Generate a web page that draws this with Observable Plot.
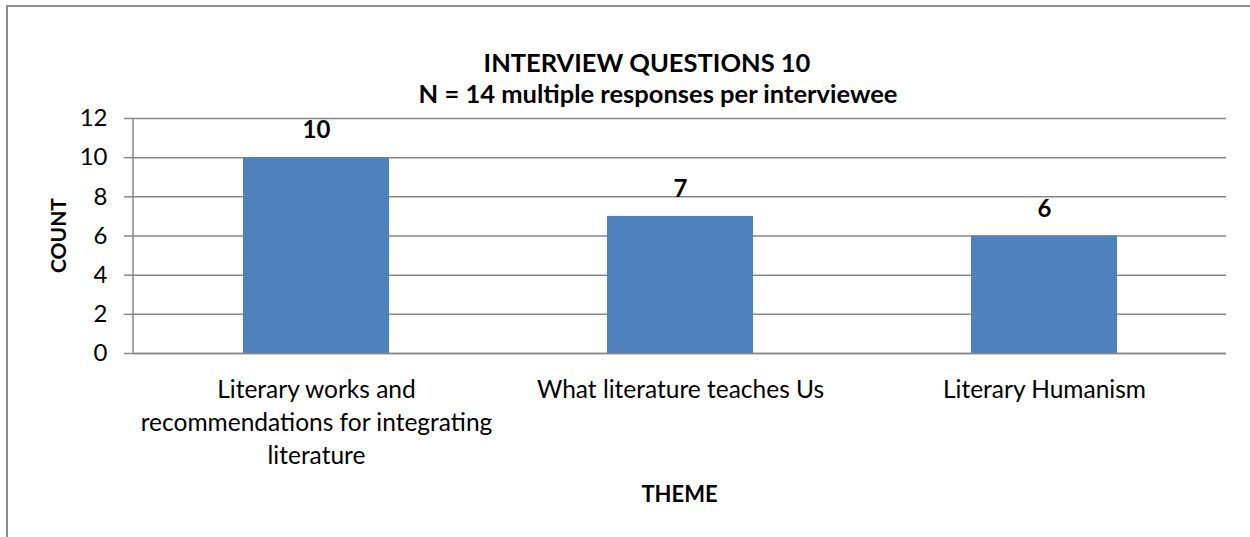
<!DOCTYPE html>
<html><head><meta charset="utf-8">
<script src="https://cdn.jsdelivr.net/npm/d3@7"></script>
<script src="https://cdn.jsdelivr.net/npm/@observablehq/plot@0.6"></script>
<style>
html,body{margin:0;padding:0;background:#fff;overflow:hidden}
#frame{position:absolute;left:6px;top:5px;width:1400px;height:700px;border-left:2px solid #8c8c8c;border-top:2px solid #8c8c8c;}
#chart{position:absolute;left:0;top:0}
</style></head><body>
<div id="frame"></div><div id="chart"></div>
<script>
const themes = ["Literary works and recommendations for integrating literature", "What literature teaches Us", "Literary Humanism"];
const themeLabels = ["Literary works and\nrecommendations for integrating\nliterature", "What literature teaches Us", "Literary Humanism"];
const counts = [10, 7, 6];
const yTicks = [0, 2, 4, 6, 8, 10, 12];
const titleLine1 = "INTERVIEW QUESTIONS 10";
const titleLine2 = "N = 14 multiple responses per interviewee";
const xLabel = "THEME";
const yLabel = "COUNT";

const data = themes.map((t, i) => ({theme: t, label: themeLabels[i], count: counts[i]}));
const W = 1250, H = 537, mL = 133, mR = 24, mT = 118, mB = 184;
const font = "Lato, 'Open Sans', sans-serif";
const grey = "#878787";

const leftLine = (index, scales, values, dims) =>
  d3.create("svg:line")
    .attr("x1", dims.marginLeft).attr("x2", dims.marginLeft)
    .attr("y1", dims.marginTop).attr("y2", dims.height - dims.marginBottom)
    .attr("stroke", grey).attr("stroke-width", 1.5).node();

const plot = Plot.plot({
  width: W, height: H,
  marginLeft: mL, marginRight: mR, marginTop: mT, marginBottom: mB,
  style: {fontFamily: font, fontSize: "24px", color: "#000", background: "transparent", overflow: "visible"},
  x: {domain: themes, paddingInner: 0.6, paddingOuter: 0.3, axis: null},
  y: {domain: [0, 12], axis: null},
  marks: [
    Plot.gridY(yTicks, {stroke: grey, strokeOpacity: 1, strokeWidth: 1.5}),
    Plot.barY(data, {x: "theme", y: "count", fill: "#4F81BD"}),
    Plot.ruleY([0], {stroke: grey, strokeWidth: 1.5}),
    Plot.axisY(yTicks, {tickSize: 9, tickPadding: 17, stroke: grey, strokeWidth: 1.5, fill: "#000", fontSize: 24, label: null}),
    Plot.text(data, {x: "theme", y: "count", text: d => String(d.count), dy: -27, fontWeight: "bold", fontSize: 24, fill: "#000"}),
    Plot.text(data, {x: "theme", text: "label", frameAnchor: "bottom", lineAnchor: "top", dy: 21, lineHeight: 1.35, fontSize: 24.5, fill: "#000"}),
    leftLine
  ]
});

const svg = d3.select(plot);
svg.append("text").attr("x", 647).attr("y", 72).attr("text-anchor", "middle")
  .attr("font-weight", "bold").attr("font-size", 25.5).attr("font-family", font).attr("fill", "#000").text(titleLine1);
svg.append("text").attr("x", 658).attr("y", 103).attr("text-anchor", "middle")
  .attr("font-weight", "bold").attr("font-size", 25.5).attr("font-family", font).attr("fill", "#000").text(titleLine2);
svg.append("text").attr("x", (mL + W - mR) / 2).attr("y", 502).attr("text-anchor", "middle")
  .attr("font-weight", "bold").attr("font-size", 22).attr("font-family", font).attr("fill", "#000").text(xLabel);
svg.append("text").attr("transform", `translate(66,${(mT + H - mB) / 2}) rotate(-90)`).attr("text-anchor", "middle")
  .attr("font-weight", "bold").attr("font-size", 21).attr("font-family", font).attr("fill", "#000").text(yLabel);

document.getElementById("chart").appendChild(plot);
</script>
</body></html>
